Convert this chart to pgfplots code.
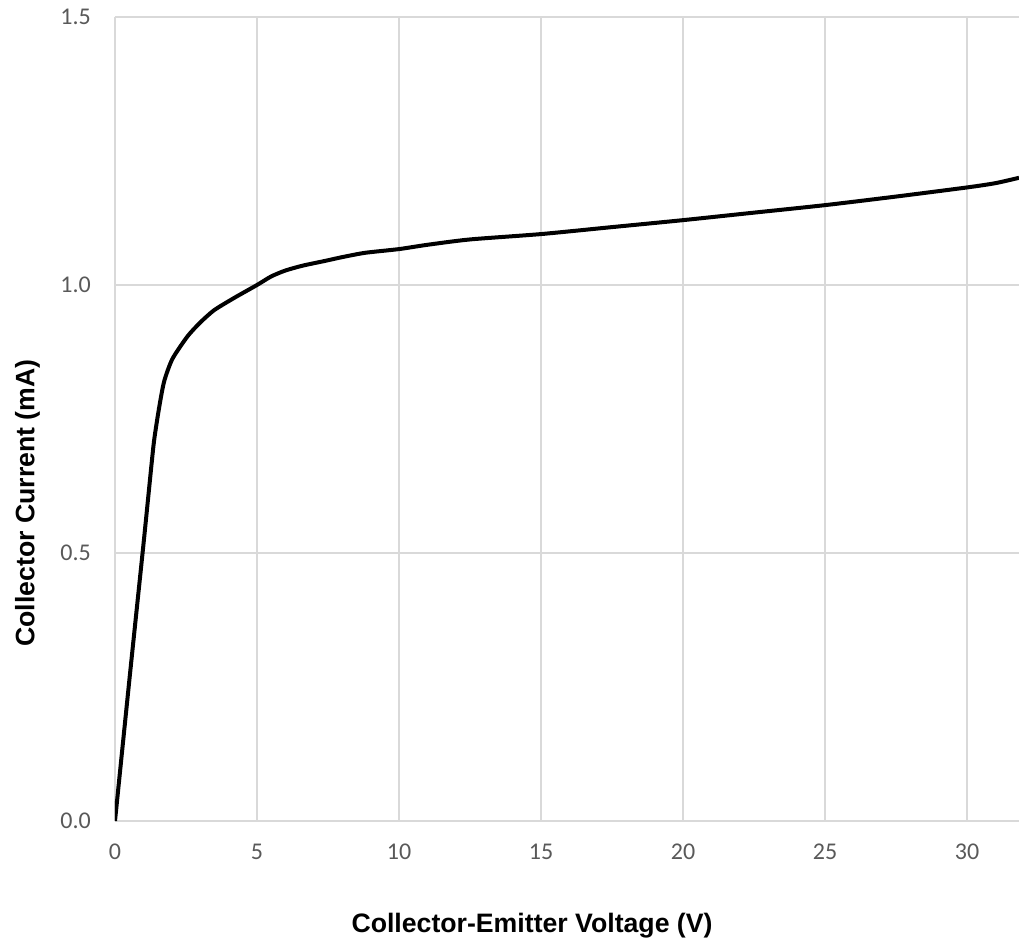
\documentclass[border=0pt]{standalone}
\usepackage{pgfplots}
\pgfplotsset{compat=1.18}
\usepackage{fontspec}
\setmainfont{Carlito}
\newfontfamily\arialb{Liberation Sans}[BoldFont=* Bold]
\definecolor{tickgray}{HTML}{595959}
\definecolor{gridgray}{HTML}{D9D9D9}
\definecolor{basegray}{HTML}{BFBFBF}

\begin{document}
\begin{tikzpicture}
	\begin{axis}[
		name=ax,
		width=678pt, height=603pt, scale only axis,
		xmin=0, xmax=31.83, ymin=0, ymax=1.5,
		xtick={0,5,...,30}, ytick={0,0.5,1.0,1.5},
		yticklabel style={/pgf/number format/fixed, /pgf/number format/fixed zerofill, /pgf/number format/precision=1},
		/pgf/number format/assume math mode=true,
		axis line style={draw=none},
		major tick length=0pt,
		grid=major,
		major grid style={gridgray, line width=1.1pt},
		extra y ticks={0}, extra y tick labels={},
		extra y tick style={grid style={basegray, line width=1.1pt}},
		tick label style={font=\fontsize{18}{22}\selectfont, text=tickgray, inner sep=0pt},
		yticklabel style={anchor=east, xshift=-18pt},
		xticklabel style={anchor=north, yshift=-17pt},
		xlabel={Collector-Emitter Voltage (V)},
		ylabel={Collector Current (mA)},
		every axis x label/.style={at={(axis description cs:0.4613,-0.13806)}, anchor=base, font=\arialb\bfseries\fontsize{20}{24}\selectfont},
		every axis y label/.style={at={(axis description cs:-0.08905,0.3955)}, rotate=90, anchor=base, font=\arialb\bfseries\fontsize{20}{24}\selectfont},
	]
		\addplot[black, line width=3pt, smooth, tension=0.4] coordinates {
			(0,0) (0.5,0.26) (1.0,0.515) (1.2,0.62) (1.37,0.707) (1.55,0.77)
			(1.73,0.82) (2.02,0.862) (2.55,0.904) (3.0,0.93) (3.49,0.953)
			(4.2,0.976) (5,1.0) (5.5,1.016) (6.0,1.027) (6.6,1.036) (7.4,1.045)
			(8.0,1.052) (8.8,1.06) (10,1.067) (11,1.075) (12.5,1.085) (15,1.095)
			(17.5,1.108) (20,1.121) (22.5,1.135) (25,1.149) (27.5,1.165)
			(30,1.182) (31,1.19) (31.83,1.2)
		};
	\end{axis}
	\pgfresetboundingbox
	\useasboundingbox ([xshift=-86.25pt,yshift=-90.75pt]ax.south west) rectangle ([yshift=12.75pt]ax.north east);
\end{tikzpicture}
\end{document}
